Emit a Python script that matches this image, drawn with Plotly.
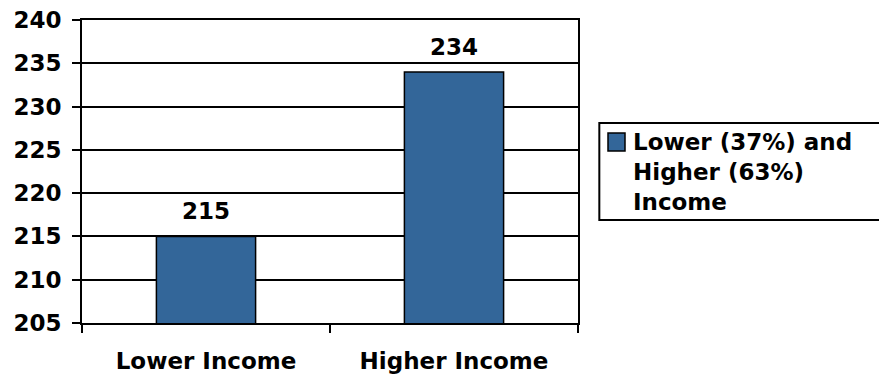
import plotly.graph_objects as go

categories = ["Lower Income", "Higher Income"]
values = [215, 234]
series_name = "Lower (37%) and<br>Higher (63%)<br>Income"
y_ticks = [205, 210, 215, 220, 225, 230, 235, 240]

BAR_COLOR = "#336699"
FONT = dict(family="DejaVu Sans", size=23, color="black", weight="bold")

fig = go.Figure()
fig.add_trace(go.Bar(
    x=categories, y=values, name=series_name,
    marker=dict(color=BAR_COLOR, line=dict(color="black", width=1.5)),
    showlegend=False,
))

# value labels above the bars
for c, v in zip(categories, values):
    fig.add_annotation(x=c, y=v, text=str(v), showarrow=False,
                       yanchor="bottom", yshift=10, font=FONT)

# legend box drawn in paper coordinates
fig.add_shape(type="rect", xref="paper", yref="paper",
              x0=1.043, x1=1.62, y0=(375 - 52 - 220) / 303, y1=(375 - 52 - 123) / 303,
              line=dict(color="black", width=2), fillcolor="white")
fig.add_shape(type="rect", xref="paper", yref="paper",
              x0=(608 - 82) / 496, x1=(625 - 82) / 496,
              y0=(323 - 151) / 303, y1=(323 - 133) / 303,
              line=dict(color="black", width=1.5), fillcolor=BAR_COLOR)
fig.add_annotation(xref="paper", yref="paper", x=(631 - 82) / 496, y=(323 - 127) / 303,
                   xanchor="left", yanchor="top", align="left", showarrow=False,
                   text=series_name, font=FONT)

fig.update_layout(
    width=879, height=375,
    margin=dict(l=82, r=301, t=20, b=52, autoexpand=False),
    paper_bgcolor="white", plot_bgcolor="white",
    font=FONT,
    bargap=0.6,
    xaxis=dict(showline=True, linecolor="black", linewidth=2, mirror=True,
               ticks="outside", tickson="boundaries", ticklen=8, tickwidth=2,
               tickcolor="black", ticklabelstandoff=16, showgrid=False),
    yaxis=dict(range=[205, 240], tickvals=y_ticks, showline=True, linecolor="black",
               linewidth=2, mirror=True, ticks="outside", ticklen=8, tickwidth=2,
               tickcolor="black", showgrid=True, gridcolor="black", gridwidth=2,
               ticklabelstandoff=6, zeroline=False),
)

fig.write_html("out.html")
